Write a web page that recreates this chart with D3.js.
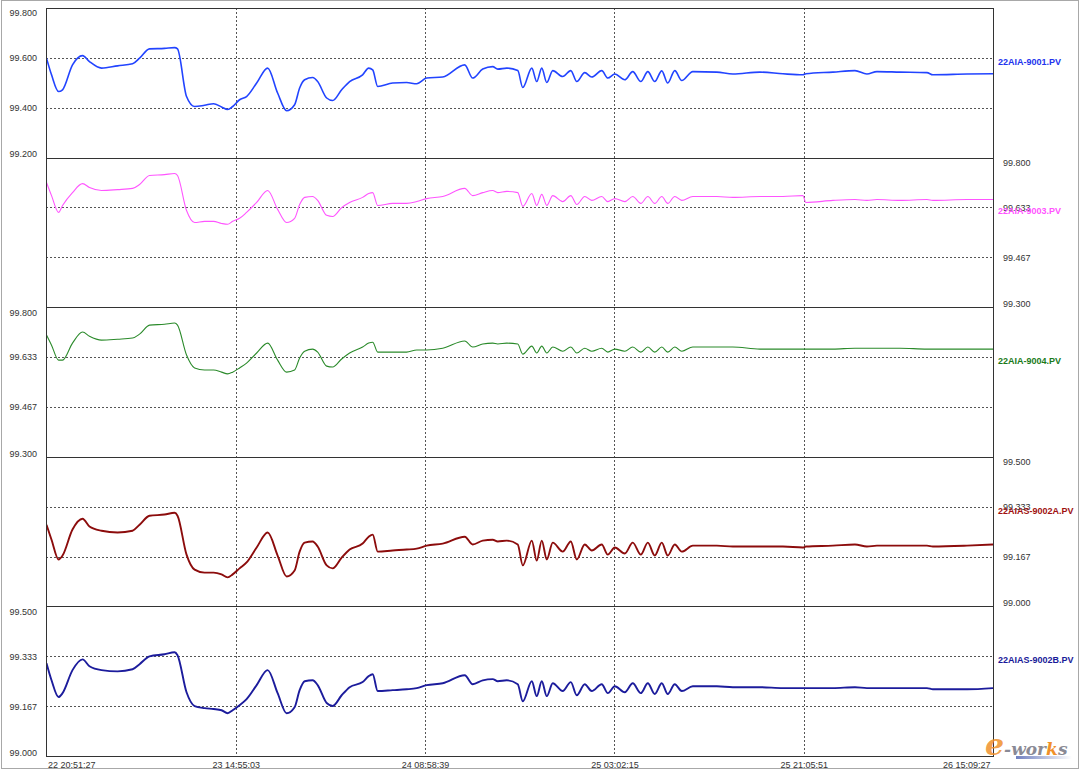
<!DOCTYPE html>
<html><head><meta charset="utf-8">
<script src="https://cdn.jsdelivr.net/npm/d3@7"></script>
<style>
body{margin:0;background:#fff}
svg{display:block}
text{font-family:"Liberation Sans",Arial,sans-serif}
</style>
</head><body>
<svg id="c" width="1080" height="771"></svg>
<script>
// ---------- DATA ----------
const startTime = [2013, 0, 22, 20, 51, 27];   // 22 20:51:27
const tickStepSeconds = 65016;                 // 18:03:36 between time labels
const tickCount = 6;

// hours elapsed since start
const hours = [0,0.48,1.15,1.53,2.48,3.44,4.10,5.25,6.78,8.21,
8.88,9.83,11.26,12.22,12.50,13.36,14.13,15.08,15.94,16.70,
17.28,17.76,18.42,19.09,20.05,21.10,22.05,22.91,23.67,24.15,
24.63,25.39,25.87,26.73,27.30,28.16,28.92,30.16,30.74,31.12,
31.60,33.03,34.36,35.32,36.27,37.80,39.90,40.66,41.62,42.57,
43.05,43.91,44.96,45.44,46.30,46.77,47.25,47.73,48.30,49.25,
50.02,50.59,51.35,52.02,52.97,53.55,54.22,55.17,55.93,56.70,
57.37,58.03,58.70,59.27,59.94,60.61,61.66,63.95,65.48,68.06,
70.26,72.16,72.45,75.03,77.13,78.27,79.23,81.42,84.00,84.57,
87.82,90.30];

const s9001 = [99.599,99.532,99.465,99.472,99.572,99.609,99.585,99.559,99.568,99.576,
99.599,99.636,99.638,99.641,99.636,99.445,99.405,99.410,99.416,99.403,
99.393,99.405,99.432,99.445,99.499,99.559,99.459,99.388,99.412,99.479,
99.512,99.521,99.505,99.439,99.429,99.472,99.505,99.532,99.559,99.552,
99.485,99.499,99.501,99.496,99.519,99.523,99.572,99.519,99.555,99.565,
99.555,99.559,99.549,99.481,99.559,99.505,99.559,99.501,99.549,99.525,
99.549,99.505,99.541,99.523,99.549,99.519,99.535,99.512,99.545,99.505,
99.545,99.505,99.548,99.499,99.549,99.509,99.545,99.543,99.535,99.543,
99.536,99.532,99.536,99.543,99.549,99.535,99.545,99.543,99.541,99.532,
99.535,99.536];

const s9003 = [99.717,99.673,99.617,99.640,99.683,99.713,99.700,99.690,99.693,99.697,
99.710,99.740,99.743,99.747,99.740,99.623,99.583,99.587,99.587,99.580,
99.577,99.587,99.597,99.617,99.650,99.690,99.627,99.583,99.597,99.643,
99.667,99.670,99.657,99.607,99.603,99.633,99.650,99.667,99.680,99.683,
99.640,99.647,99.647,99.653,99.663,99.670,99.697,99.673,99.683,99.690,
99.683,99.687,99.683,99.637,99.680,99.640,99.677,99.640,99.673,99.653,
99.673,99.643,99.670,99.657,99.670,99.653,99.663,99.653,99.670,99.647,
99.670,99.647,99.670,99.647,99.670,99.657,99.670,99.670,99.667,99.670,
99.670,99.673,99.650,99.657,99.660,99.657,99.660,99.657,99.660,99.657,
99.660,99.660];

const s9004 = [99.707,99.673,99.623,99.623,99.680,99.717,99.703,99.690,99.693,99.697,
99.710,99.740,99.743,99.747,99.740,99.640,99.597,99.590,99.590,99.583,
99.577,99.583,99.597,99.613,99.647,99.680,99.623,99.583,99.590,99.630,
99.653,99.660,99.650,99.603,99.600,99.627,99.647,99.667,99.680,99.683,
99.650,99.650,99.650,99.657,99.657,99.663,99.687,99.667,99.677,99.680,
99.677,99.680,99.677,99.643,99.670,99.647,99.670,99.647,99.667,99.653,
99.667,99.647,99.663,99.653,99.663,99.650,99.660,99.653,99.667,99.650,
99.667,99.650,99.667,99.650,99.667,99.653,99.667,99.667,99.667,99.660,
99.660,99.660,99.660,99.660,99.663,99.663,99.663,99.663,99.660,99.660,
99.660,99.660];

const s9002A = [99.273,99.223,99.157,99.170,99.257,99.293,99.267,99.253,99.247,99.253,
99.273,99.303,99.307,99.313,99.303,99.173,99.123,99.113,99.113,99.107,
99.097,99.107,99.127,99.147,99.197,99.247,99.170,99.100,99.120,99.183,
99.213,99.217,99.200,99.137,99.127,99.163,99.190,99.210,99.233,99.240,
99.183,99.187,99.190,99.193,99.203,99.210,99.233,99.207,99.220,99.223,
99.217,99.220,99.207,99.137,99.220,99.153,99.220,99.157,99.213,99.183,
99.217,99.157,99.207,99.187,99.207,99.173,99.197,99.177,99.213,99.173,
99.213,99.170,99.213,99.170,99.207,99.183,99.203,99.203,99.200,99.200,
99.200,99.197,99.200,99.203,99.207,99.200,99.203,99.203,99.203,99.200,
99.203,99.207];

const s9002B = [99.310,99.253,99.197,99.210,99.287,99.323,99.300,99.287,99.283,99.290,
99.307,99.333,99.340,99.347,99.337,99.213,99.167,99.160,99.157,99.153,
99.143,99.153,99.170,99.190,99.237,99.287,99.210,99.143,99.163,99.220,
99.250,99.253,99.237,99.177,99.167,99.203,99.230,99.247,99.267,99.273,
99.217,99.220,99.223,99.227,99.237,99.243,99.270,99.240,99.253,99.257,
99.250,99.253,99.240,99.183,99.250,99.200,99.250,99.200,99.243,99.217,
99.247,99.203,99.240,99.217,99.240,99.210,99.233,99.213,99.243,99.210,
99.243,99.207,99.243,99.207,99.240,99.217,99.233,99.233,99.230,99.230,
99.227,99.227,99.227,99.227,99.230,99.227,99.227,99.227,99.227,99.223,
99.223,99.227];

const seriesNames = ["22AIA-9001.PV","22AIA-9003.PV","22AIA-9004.PV","22AIAS-9002A.PV","22AIAS-9002B.PV"];
const seriesValues = [s9001, s9003, s9004, s9002A, s9002B];
const seriesDomains = [[99.2,99.8],[99.3,99.8],[99.3,99.8],[99.0,99.5],[99.0,99.5]];
const axisSides = ["left","right","left","right","left"];
const lineColors = ["#2244ff","#ff55ff","#2a8a2a","#8c0c0c","#1c1c9c"];
const labelColors = ["#2233ee","#ff55ff","#1a7a1a","#a01010","#1a1a99"];
const lineWidths = [1.6,1.1,1.1,1.9,1.9];

// ---------- LAYOUT ----------
const plot = {left:46, right:993, top:8, bottom:756};
const nPanels = seriesNames.length;
const bandH = (plot.bottom - plot.top) / nPanels;
const svg = d3.select("#c");

// outer frame
svg.append("rect").attr("x",1.5).attr("y",0.5).attr("width",1077).attr("height",768)
  .attr("fill","#fff").attr("stroke","#a8a8a8");

const t0 = new Date(...startTime);
const dates = hours.map(h => new Date(t0.getTime() + h*3600e3));
const tickDates = d3.range(tickCount).map(i => new Date(t0.getTime() + i*tickStepSeconds*1000));
const x = d3.scaleTime().domain([tickDates[0], tickDates[tickCount-1]]).range([plot.left+0.5, plot.right]);

const defs = svg.append("defs");

// vertical grid
svg.append("g").selectAll("line").data(tickDates.slice(1,-1)).join("line")
  .attr("x1", d => Math.round(x(d))+0.5).attr("x2", d => Math.round(x(d))+0.5)
  .attr("y1", plot.top).attr("y2", plot.bottom)
  .attr("stroke","#555").attr("stroke-dasharray","2,2").attr("shape-rendering","crispEdges");

seriesNames.forEach((name, i) => {
  const top = plot.top + i*bandH, bottom = top + bandH;
  const dom = seriesDomains[i];
  const y = d3.scaleLinear().domain(dom).range([bottom, top]);
  const tv = d3.range(4).map(k => dom[0] + (dom[1]-dom[0])*k/3);

  // horizontal grid (inner ticks)
  svg.append("g").selectAll("line").data(tv.slice(1,3)).join("line")
    .attr("x1", plot.left).attr("x2", plot.right)
    .attr("y1", d => Math.round(y(d))+0.5).attr("y2", d => Math.round(y(d))+0.5)
    .attr("stroke","#555").attr("stroke-dasharray","2,2").attr("shape-rendering","crispEdges");

  // axis
  const left = axisSides[i] === "left";
  const ax = (left ? d3.axisLeft(y) : d3.axisRight(y))
    .tickValues(tv).tickSize(0).tickPadding(left ? 9 : 10).tickFormat(d3.format(".3f"));
  const g = svg.append("g")
    .attr("transform", `translate(${left ? plot.left : plot.right},0)`)
    .call(ax);
  g.select(".domain").remove();
  g.selectAll("text").attr("font-size", 9).attr("fill","#333")
    .style("font-family",'"Liberation Sans",Arial,sans-serif')
    .attr("y", (d, k) => k === 3 ? 5 : (k === 0 ? -3.5 : 0));

  // series line
  const cid = "clip" + i;
  defs.append("clipPath").attr("id", cid).append("rect")
    .attr("x", plot.left).attr("y", top).attr("width", plot.right-plot.left).attr("height", bandH);
  const data = dates.map((t, k) => ({t, v: seriesValues[i][k]}));
  svg.append("path").datum(data)
    .attr("clip-path", `url(#${cid})`)
    .attr("fill","none").attr("stroke", lineColors[i]).attr("stroke-width", lineWidths[i])
    .attr("stroke-linejoin","round")
    .attr("d", d3.line().curve(d3.curveMonotoneX).x(d => x(d.t)).y(d => y(d.v)));

  // name label at right
  svg.append("text").attr("x", plot.right + 5).attr("y", Math.round(y(tv[2])) + 7)
    .attr("font-size", 9).attr("font-weight","bold").attr("fill", labelColors[i])
    .text(name);
});

// panel separators and frame
svg.append("g").selectAll("line").data(d3.range(nPanels+1)).join("line")
  .attr("x1", plot.left).attr("x2", plot.right)
  .attr("y1", d => Math.round(plot.top + d*bandH)+0.5).attr("y2", d => Math.round(plot.top + d*bandH)+0.5)
  .attr("stroke","#333").attr("shape-rendering","crispEdges");
[plot.left, plot.right].forEach(px => {
  svg.append("line").attr("x1", px+0.5).attr("x2", px+0.5).attr("y1", plot.top).attr("y2", plot.bottom+0.5)
    .attr("stroke","#333").attr("shape-rendering","crispEdges");
});

// time axis
const xa = d3.axisBottom(x).tickValues(tickDates).tickSize(0).tickPadding(6)
  .tickFormat(d3.timeFormat("%d %H:%M:%S"));
const gx = svg.append("g").attr("transform", `translate(0,${plot.bottom})`).call(xa);
gx.select(".domain").remove();
gx.selectAll("text").attr("font-size", 9).attr("fill","#333")
  .style("font-family",'"Liberation Sans",Arial,sans-serif')
  .attr("text-anchor", (d, k) => k === 0 ? "start" : (k === tickCount-1 ? "end" : "middle"))
  .attr("x", (d, k) => k === 0 ? 1 : (k === tickCount-1 ? -3 : 0));

// watermark
const grad = defs.append("linearGradient").attr("id","wmg");
grad.append("stop").attr("offset","0").attr("stop-color","#7080c0");
grad.append("stop").attr("offset","1").attr("stop-color","#ffffff");
svg.append("rect").attr("x",1016).attr("y",756).attr("width",56).attr("height",3).attr("fill","url(#wmg)");
const wm = svg.append("text").attr("x", 985).attr("y", 755)
  .attr("font-style","italic").attr("font-weight","bold")
  .style("font-family",'"DejaVu Serif",serif');
wm.append("tspan").attr("font-size", 30).attr("fill","#f0902a").attr("fill-opacity",0.85).text("e");
wm.append("tspan").attr("font-size", 17).attr("fill","#8a8a95").text("-wor");
wm.append("tspan").attr("font-size", 17).attr("fill","#f0902a").text("k");
wm.append("tspan").attr("font-size", 17).attr("fill","#8a8a95").text("s");
</script>
</body></html>
